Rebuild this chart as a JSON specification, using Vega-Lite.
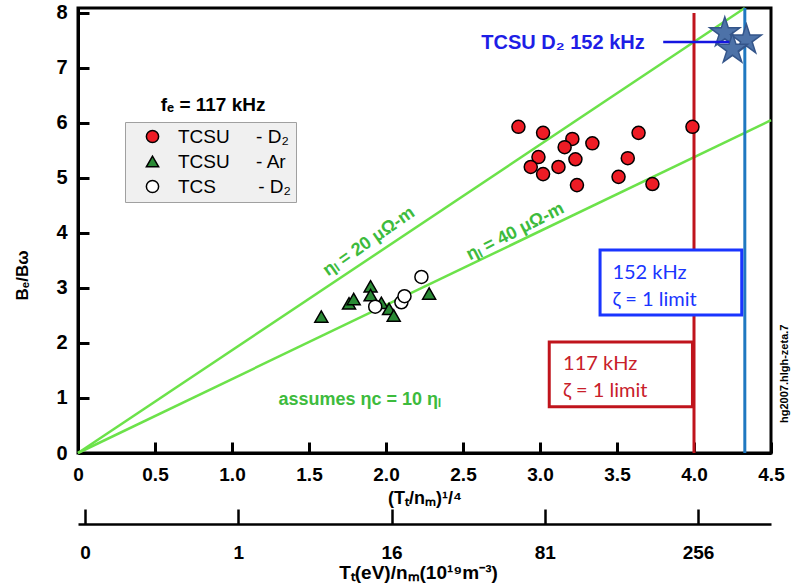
{
  "$schema": "https://vega.github.io/schema/vega-lite/v6.json",
  "description": "Be/Bw against (Tt/nm)^1/4 for TCSU and TCS discharges",
  "width": 693,
  "height": 445,
  "autosize": {"type": "none"},
  "padding": {"left": 78, "top": 8, "right": 28, "bottom": 133},
  "config": {
    "view": {"stroke": "black", "strokeWidth": 3},
    "font": "Liberation Sans",
    "axis": {
      "grid": false,
      "ticks": true,
      "domainColor": "black",
      "domainWidth": 3,
      "tickColor": "black",
      "tickWidth": 3,
      "tickOpacity": 1,
      "labelColor": "black",
      "labelFontWeight": "bold",
      "titleColor": "black",
      "titleFontWeight": "bold",
      "labelFlush": false
    },
    "axisX": {"tickSize": -11, "labelPadding": 23, "labelFontSize": 19, "titleFontSize": 18},
    "axisY": {"tickSize": -11, "labelPadding": 22, "labelFontSize": 20, "titleFontSize": 17}
  },
  "resolve": {
    "scale": {"x": "independent", "y": "independent"},
    "axis": {"x": "independent", "y": "independent"}
  },
  "layer": [
    {
      "encoding": {
        "x": {"field": "x", "type": "quantitative", "axis": null, "scale": {"domain": [0, 4.5], "nice": false, "zero": false}},
        "y": {"field": "y", "type": "quantitative", "axis": null, "scale": {"domain": [0, 8.09], "nice": false, "zero": false}}
      },
      "layer": [
        {
          "data": {"values": [
            {"x": 0, "y": 0, "x2": 4.33, "y2": 8.09},
            {"x": 0, "y": 0, "x2": 4.5, "y2": 6.05}
          ]},
          "mark": {"type": "rule", "color": "#6ce24a", "strokeWidth": 2.5},
          "encoding": {"x2": {"field": "x2"}, "y2": {"field": "y2"}}
        },
        {
          "data": {"values": [{"x": 4.0, "y": 0, "y2": 8.0}]},
          "mark": {"type": "rule", "color": "#c0141c", "strokeWidth": 3},
          "encoding": {"y2": {"field": "y2"}}
        },
        {
          "data": {"values": [{"x": 4.33, "y": 0, "y2": 8.09}]},
          "mark": {"type": "rule", "color": "#1f78c1", "strokeWidth": 3},
          "encoding": {"y2": {"field": "y2"}}
        },
        {
          "data": {"values": [{"x": 3.39, "x2": 4.31, "y": 2.51, "y2": 3.69}]},
          "mark": {"type": "rect", "fill": "white", "stroke": "#1a35ff", "strokeWidth": 3},
          "encoding": {"x2": {"field": "x2"}, "y2": {"field": "y2"}}
        },
        {
          "data": {"values": [{"x": 3.06, "x2": 3.99, "y": 0.84, "y2": 2.02}]},
          "mark": {"type": "rect", "fill": "white", "stroke": "#c0141c", "strokeWidth": 3},
          "encoding": {"x2": {"field": "x2"}, "y2": {"field": "y2"}}
        },
        {
          "data": {"values": [
            {"x": 4.2, "y": 7.64},
            {"x": 4.34, "y": 7.51},
            {"x": 4.25, "y": 7.34}
          ]},
          "mark": {
            "type": "point",
            "filled": true,
            "shape": "M0,-1L0.2245,-0.309L0.951,-0.309L0.363,0.118L0.588,0.809L0,0.382L-0.588,0.809L-0.363,0.118L-0.951,-0.309L-0.2245,-0.309Z",
            "size": 1000,
            "fill": "#4d72a8",
            "stroke": "#34558a",
            "strokeWidth": 1.5,
            "opacity": 1
          }
        },
        {
          "data": {"values": [{"x": 3.8, "x2": 4.23, "y": 7.47}]},
          "mark": {"type": "rule", "color": "#1515e0", "strokeWidth": 2.5},
          "encoding": {"x2": {"field": "x2"}}
        },
        {
          "data": {"values": [{"label": "TCSU D₂ 152 kHz", "x": 3.68, "y": 7.45}]},
          "mark": {"type": "text", "align": "right", "font": "Liberation Sans Narrow, Liberation Sans", "fontWeight": "bold", "fontSize": 20, "color": "#1e1ee6"},
          "encoding": {"text": {"field": "label"}}
        },
        {
          "data": {"values": [{"label": "fₑ = 117 kHz", "x": 0.877, "y": 6.33}]},
          "mark": {"type": "text", "align": "center", "fontWeight": "bold", "fontSize": 19, "color": "black"},
          "encoding": {"text": {"field": "label"}}
        },
        {
          "data": {"values": [
            {"label": "152 kHz", "x": 3.47, "y": 3.27},
            {"label": "ζ = 1 limit", "x": 3.47, "y": 2.78}
          ]},
          "mark": {"type": "text", "align": "left", "font": "Lato", "fontSize": 20, "color": "#1a35ff"},
          "encoding": {"text": {"field": "label"}}
        },
        {
          "data": {"values": [
            {"label": "117 kHz", "x": 3.15, "y": 1.62},
            {"label": "ζ = 1 limit", "x": 3.15, "y": 1.13}
          ]},
          "mark": {"type": "text", "align": "left", "font": "Lato", "fontSize": 20, "color": "#c8202a"},
          "encoding": {"text": {"field": "label"}}
        },
        {
          "data": {"values": [{"label": "ηₗ = 20 μΩ-m", "x": 1.89, "y": 3.84}]},
          "mark": {"type": "text", "angle": 325, "font": "Liberation Sans Narrow, Liberation Sans", "fontWeight": "bold", "fontSize": 18, "color": "#3dbb3d"},
          "encoding": {"text": {"field": "label"}}
        },
        {
          "data": {"values": [{"label": "ηₗ = 40 μΩ-m", "x": 2.84, "y": 4.02}]},
          "mark": {"type": "text", "angle": 333, "font": "Liberation Sans Narrow, Liberation Sans", "fontWeight": "bold", "fontSize": 18, "color": "#3dbb3d"},
          "encoding": {"text": {"field": "label"}}
        },
        {
          "data": {"values": [{"label": "assumes ηc = 10 ηₗ", "x": 1.83, "y": 0.96}]},
          "mark": {"type": "text", "font": "Liberation Sans Narrow, Liberation Sans", "fontWeight": "bold", "fontSize": 18, "color": "#3dbb3d"},
          "encoding": {"text": {"field": "label"}}
        },
        {
          "data": {"values": [{"label": "hg2007.hlgh-zeta.7", "x": 4.59, "y": 1.44}]},
          "mark": {"type": "text", "angle": 270, "fontWeight": "bold", "fontSize": 11, "color": "black"},
          "encoding": {"text": {"field": "label"}}
        }
      ]
    },
    {
      "data": {"values": [
        {"series": "TCSU - D₂", "x": 2.86, "y": 5.93},
        {"series": "TCSU - D₂", "x": 3.02, "y": 5.82},
        {"series": "TCSU - D₂", "x": 3.21, "y": 5.71},
        {"series": "TCSU - D₂", "x": 3.16, "y": 5.56},
        {"series": "TCSU - D₂", "x": 3.34, "y": 5.63},
        {"series": "TCSU - D₂", "x": 2.99, "y": 5.38},
        {"series": "TCSU - D₂", "x": 3.23, "y": 5.34},
        {"series": "TCSU - D₂", "x": 2.94, "y": 5.2},
        {"series": "TCSU - D₂", "x": 3.12, "y": 5.2},
        {"series": "TCSU - D₂", "x": 3.02, "y": 5.07},
        {"series": "TCSU - D₂", "x": 3.24, "y": 4.87},
        {"series": "TCSU - D₂", "x": 3.64, "y": 5.82},
        {"series": "TCSU - D₂", "x": 3.57, "y": 5.36},
        {"series": "TCSU - D₂", "x": 3.51, "y": 5.02},
        {"series": "TCSU - D₂", "x": 3.73, "y": 4.89},
        {"series": "TCSU - D₂", "x": 3.99, "y": 5.93},
        {"series": "TCSU - Ar", "x": 1.58, "y": 2.48},
        {"series": "TCSU - Ar", "x": 1.76, "y": 2.72},
        {"series": "TCSU - Ar", "x": 1.79, "y": 2.8},
        {"series": "TCSU - Ar", "x": 1.9, "y": 3.03},
        {"series": "TCSU - Ar", "x": 1.9, "y": 2.87},
        {"series": "TCSU - Ar", "x": 1.97, "y": 2.73},
        {"series": "TCSU - Ar", "x": 2.02, "y": 2.62},
        {"series": "TCSU - Ar", "x": 2.05, "y": 2.5},
        {"series": "TCSU - Ar", "x": 2.28, "y": 2.9},
        {"series": "TCS - D₂", "x": 1.93, "y": 2.66},
        {"series": "TCS - D₂", "x": 2.1, "y": 2.74},
        {"series": "TCS - D₂", "x": 2.12, "y": 2.85},
        {"series": "TCS - D₂", "x": 2.23, "y": 3.2}
      ]},
      "mark": {"type": "point", "filled": true, "stroke": "black", "strokeWidth": 1.5, "size": 170, "opacity": 1},
      "encoding": {
        "x": {
          "field": "x",
          "type": "quantitative",
          "scale": {"domain": [0, 4.5], "nice": false, "zero": false},
          "axis": {
            "orient": "bottom",
            "values": [0, 0.5, 1, 1.5, 2, 2.5, 3, 3.5, 4, 4.5],
            "labelExpr": "datum.value == 0 ? '0' : format(datum.value, '.1f')",
            "title": "(Tₜ/nₘ)¹/⁴",
            "titleY": 45,
            "titleBaseline": "middle"
          }
        },
        "y": {
          "field": "y",
          "type": "quantitative",
          "scale": {"domain": [0, 8.09], "nice": false, "zero": false},
          "axis": {
            "orient": "left",
            "values": [0, 1, 2, 3, 4, 5, 6, 7, 8],
            "format": "d",
            "title": "Bₑ/Bω",
            "titleX": -56,
            "titleY": 267,
            "titleAngle": 270,
            "titleAlign": "center",
            "titleBaseline": "middle"
          }
        },
        "fill": {
          "field": "series",
          "type": "nominal",
          "scale": {"domain": ["TCSU - D₂", "TCSU - Ar", "TCS - D₂"], "range": ["#ee1c25", "#2a8a35", "white"]},
          "legend": {
            "title": null,
            "orient": "none",
            "legendX": 47,
            "legendY": 114,
            "fillColor": "#f0f0f0",
            "strokeColor": "#a0a0a0",
            "padding": 5,
            "symbolOffset": 13,
            "labelOffset": 16,
            "rowPadding": 5,
            "labelFontSize": 19,
            "labelColor": "black",
            "symbolSize": 150,
            "symbolStrokeColor": "black",
            "symbolStrokeWidth": 1.5,
            "labelExpr": "datum.label == 'TCSU - D₂' ? 'TCSU\u00a0\u00a0\u00a0\u00a0\u00a0- D₂' : datum.label == 'TCSU - Ar' ? 'TCSU\u00a0\u00a0\u00a0\u00a0\u00a0- Ar' : 'TCS\u00a0\u00a0\u00a0\u00a0\u00a0\u00a0\u00a0\u00a0- D₂'"
          }
        },
        "shape": {
          "field": "series",
          "type": "nominal",
          "scale": {"domain": ["TCSU - D₂", "TCSU - Ar", "TCS - D₂"], "range": ["circle", "triangle-up", "circle"]}
        }
      }
    },
    {
      "data": {"values": [{"t": 0}, {"t": 1}, {"t": 16}, {"t": 81}, {"t": 256}]},
      "mark": {"type": "point", "opacity": 0},
      "encoding": {
        "x": {
          "field": "t",
          "type": "quantitative",
          "scale": {"type": "pow", "exponent": 0.25, "domain": [-0.0000044, 401.4], "nice": false, "zero": false},
          "axis": {
            "orient": "bottom",
            "offset": 71,
            "values": [0, 1, 16, 81, 256],
            "format": "d",
            "title": "Tₜ(eV)/nₘ(10¹⁹m⁻³)",
            "grid": false,
            "domainWidth": 2.5,
            "tickWidth": 2.5,
            "tickSize": -15,
            "labelPadding": 34,
            "titleFontSize": 19,
            "titleX": 340,
            "titleY": 48,
            "titleBaseline": "middle"
          }
        }
      }
    }
  ]
}
